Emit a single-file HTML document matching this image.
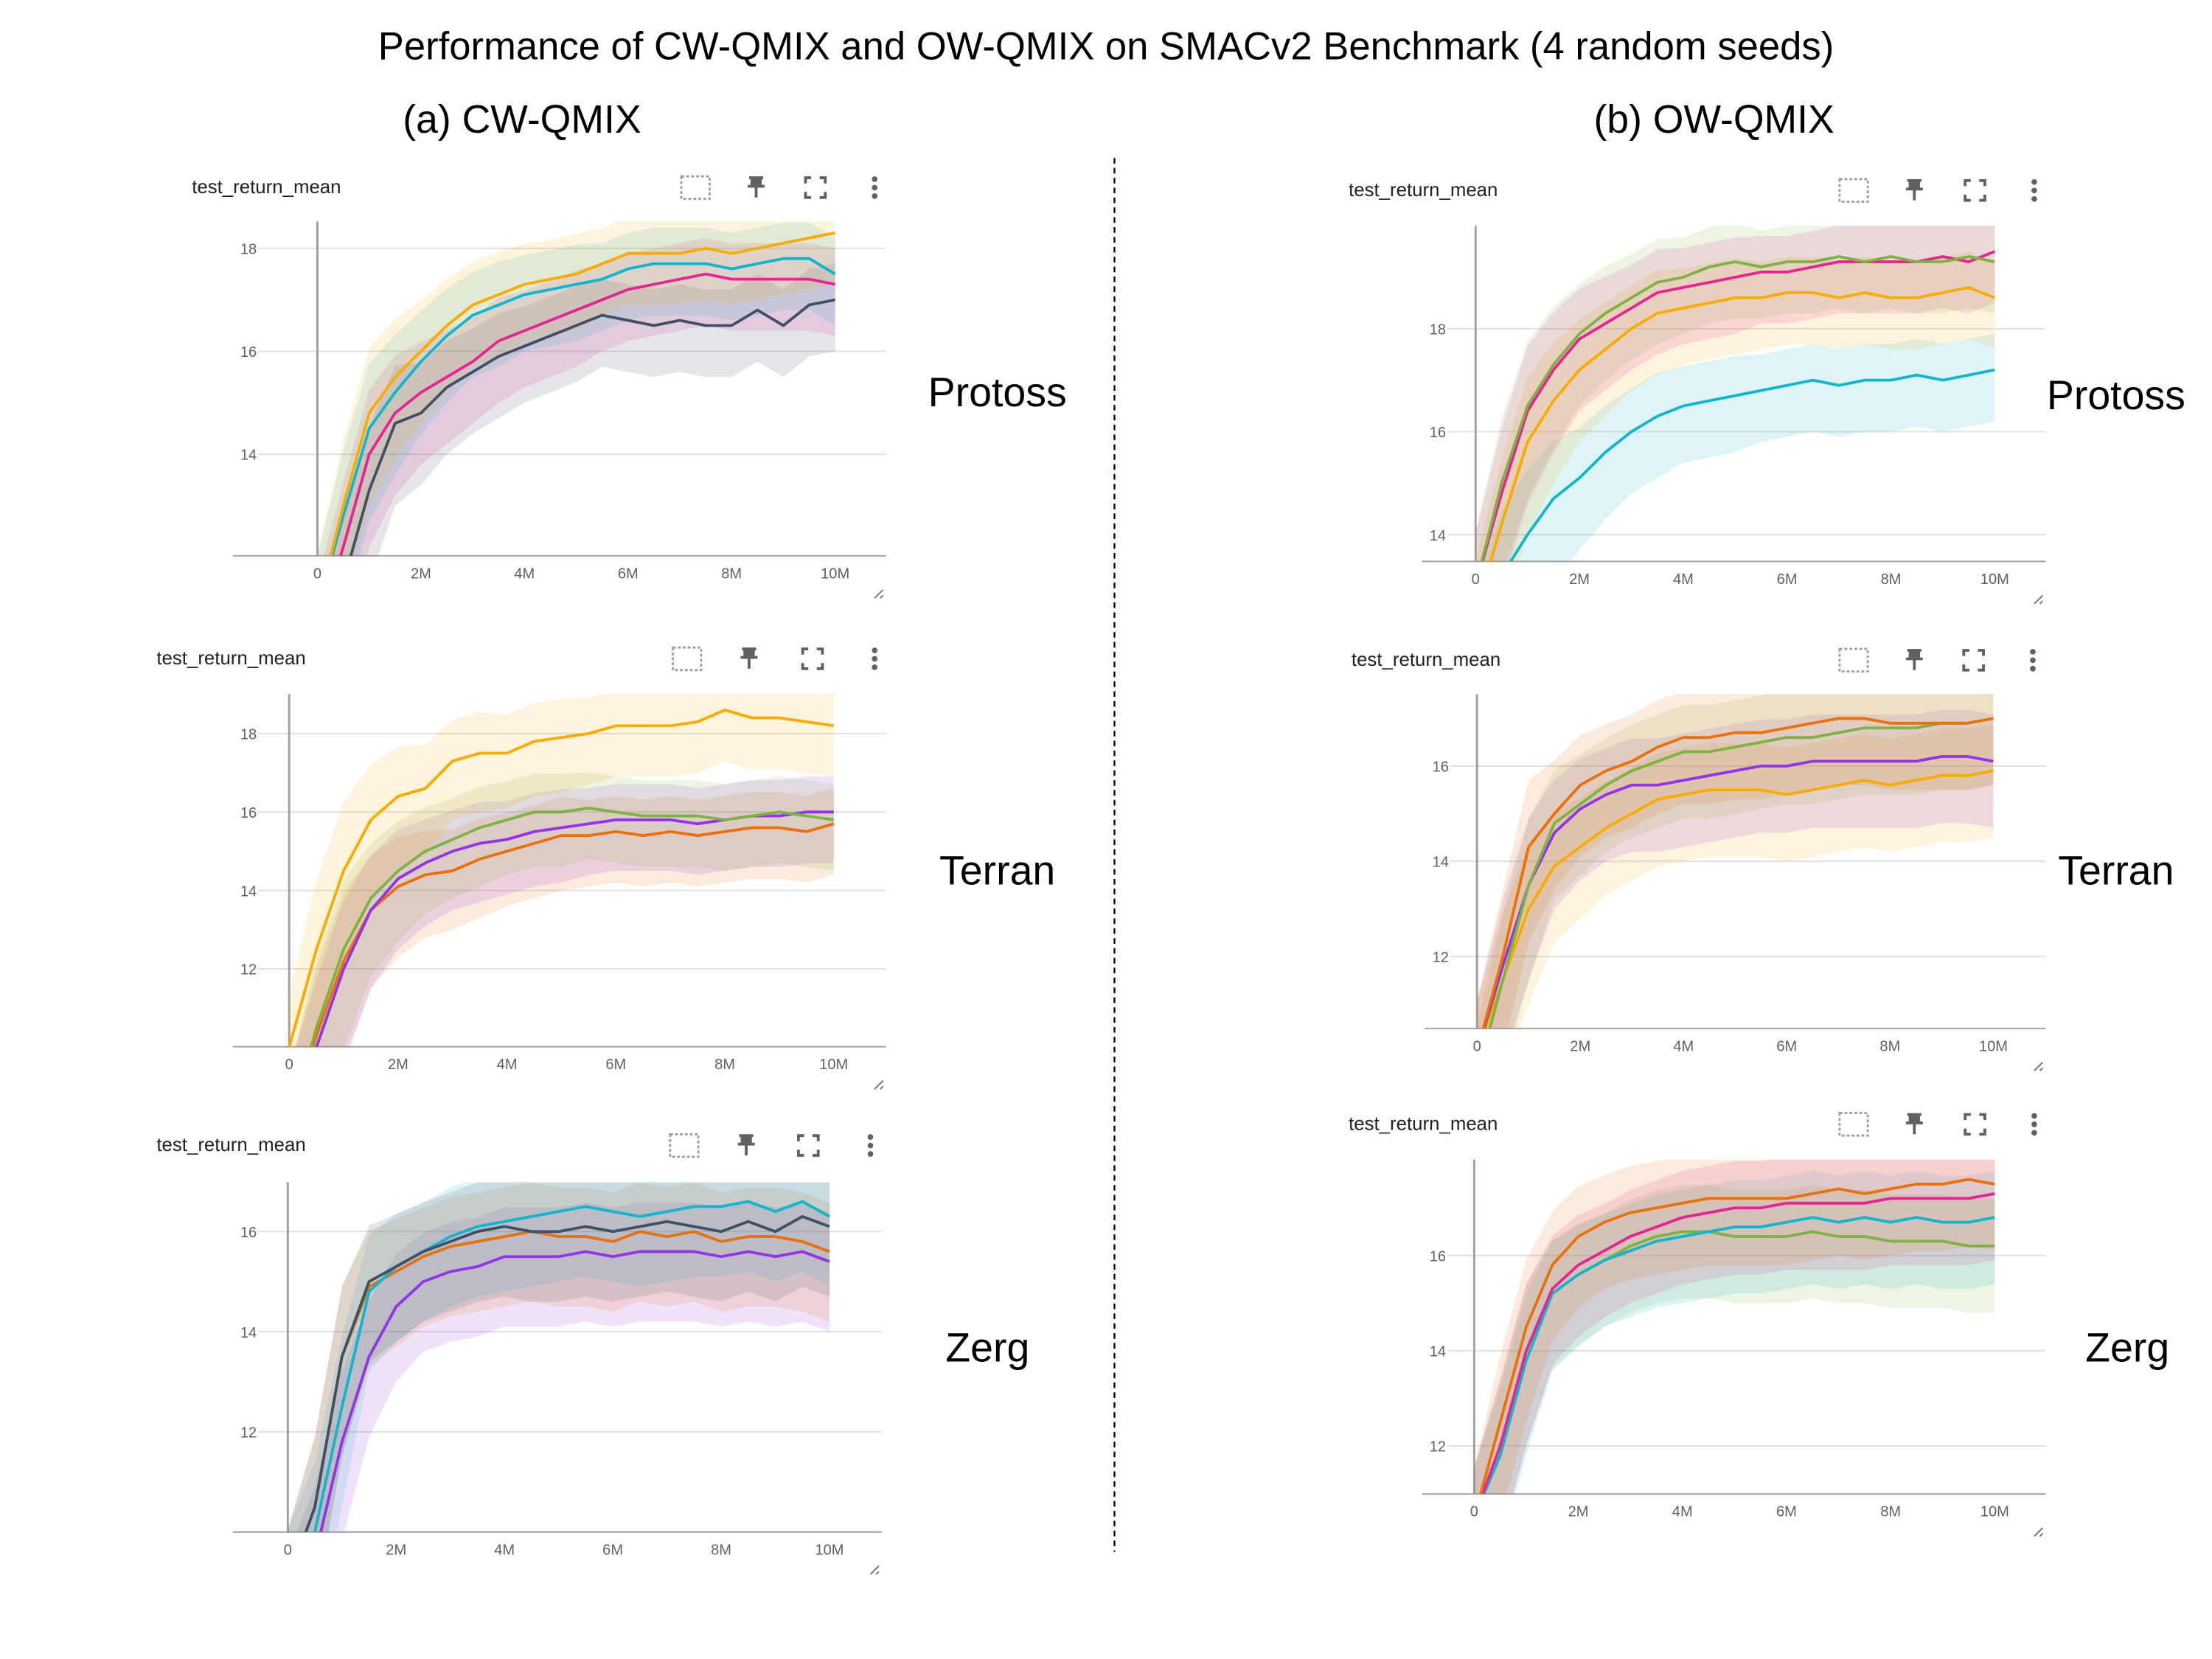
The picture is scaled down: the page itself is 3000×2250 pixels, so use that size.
<!DOCTYPE html>
<html><head><meta charset="utf-8"><style>
html,body{margin:0;padding:0;background:#fff;}
svg{display:block;font-family:"Liberation Sans",sans-serif;}
</style></head><body>
<svg id="chart" width="3000" height="2250" viewBox="0 0 1568 1176" preserveAspectRatio="none" xmlns="http://www.w3.org/2000/svg">
<rect width="1568" height="1176" fill="#fff"/>
<text x="784" y="42" font-size="27.5" text-anchor="middle" fill="#000">Performance of CW-QMIX and OW-QMIX on SMACv2 Benchmark (4 random seeds)</text>
<text x="370" y="94" font-size="28" text-anchor="middle" fill="#000">(a) CW-QMIX</text>
<text x="1215" y="94" font-size="28" text-anchor="middle" fill="#000">(b) OW-QMIX</text>
<line x1="790" y1="112" x2="790" y2="1100" stroke="#000" stroke-width="1.2" stroke-dasharray="4,3"/>
<text x="707" y="288" font-size="29" text-anchor="middle">Protoss</text>
<text x="707" y="627" font-size="29" text-anchor="middle">Terran</text>
<text x="700" y="965" font-size="29" text-anchor="middle">Zerg</text>
<text x="1500" y="290" font-size="29" text-anchor="middle">Protoss</text>
<text x="1500" y="627" font-size="29" text-anchor="middle">Terran</text>
<text x="1508" y="965" font-size="29" text-anchor="middle">Zerg</text>
<g id="panels"></g>
</svg>
<script>
const steps = [0,0.5,1,1.5,2,2.5,3,3.5,4,4.5,5,5.5,6,6.5,7,7.5,8,8.5,9,9.5,10];
const xTicks = [0,2,4,6,8,10];
const xTickLabels = ["0","2M","4M","6M","8M","10M"];
const C = {orange:"#f9ab00",cyan:"#12b5cb",pink:"#e52592",dark:"#425066",green:"#7cb342",purple:"#9334e6",dorange:"#e8710a"};

const a1Ticks = [14,16,18];
const a1Orange = [11,13,14.8,15.5,16,16.5,16.9,17.1,17.3,17.4,17.5,17.7,17.9,17.9,17.9,18.0,17.9,18.0,18.1,18.2,18.3];
const a1Cyan = [11,12.8,14.5,15.2,15.8,16.3,16.7,16.9,17.1,17.2,17.3,17.4,17.6,17.7,17.7,17.7,17.6,17.7,17.8,17.8,17.5];
const a1Pink = [10.5,12.2,14,14.8,15.2,15.5,15.8,16.2,16.4,16.6,16.8,17.0,17.2,17.3,17.4,17.5,17.4,17.4,17.4,17.4,17.3];
const a1Dark = [10,11.5,13.3,14.6,14.8,15.3,15.6,15.9,16.1,16.3,16.5,16.7,16.6,16.5,16.6,16.5,16.5,16.8,16.5,16.9,17.0];
const a1Spread = [1.5,1.8,1.8,1.6,1.4,1.3,1.2,1.2,1.1,1.1,1.1,1.0,1.0,1.0,1.0,1.0,1.0,1.0,1.0,1.0,1.0];
const a2Ticks = [12,14,16,18];
const a2Orange = [10,12.5,14.5,15.8,16.4,16.6,17.3,17.5,17.5,17.8,17.9,18.0,18.2,18.2,18.2,18.3,18.6,18.4,18.4,18.3,18.2];
const a2Green = [8,10.5,12.5,13.8,14.5,15,15.3,15.6,15.8,16.0,16.0,16.1,16.0,15.9,15.9,15.9,15.8,15.9,16.0,15.9,15.8];
const a2Purple = [8,10,12,13.5,14.3,14.7,15.0,15.2,15.3,15.5,15.6,15.7,15.8,15.8,15.8,15.7,15.8,15.9,15.9,16.0,16.0];
const a2DOrange = [8,10.3,12.2,13.5,14.1,14.4,14.5,14.8,15.0,15.2,15.4,15.4,15.5,15.4,15.5,15.4,15.5,15.6,15.6,15.5,15.7];
const a2Spread = [2,2.5,2.5,2,1.8,1.6,1.5,1.5,1.4,1.4,1.4,1.3,1.3,1.3,1.3,1.3,1.3,1.3,1.3,1.3,1.3];
const a3Ticks = [12,14,16];
const a3Dark = [9,10.5,13.5,15,15.3,15.6,15.8,16.0,16.1,16.0,16.0,16.1,16.0,16.1,16.2,16.1,16.0,16.2,16.0,16.3,16.1];
const a3Cyan = [9,10,12.5,14.8,15.3,15.6,15.9,16.1,16.2,16.3,16.4,16.5,16.4,16.3,16.4,16.5,16.5,16.6,16.4,16.6,16.3];
const a3DOrange = [9,10.5,13.5,14.9,15.2,15.5,15.7,15.8,15.9,16.0,15.9,15.9,15.8,16.0,15.9,16.0,15.8,15.9,15.9,15.8,15.6];
const a3Purple = [8.5,9.5,11.8,13.5,14.5,15.0,15.2,15.3,15.5,15.5,15.5,15.6,15.5,15.6,15.6,15.6,15.5,15.6,15.5,15.6,15.4];
const a3Spread = [1.5,2,2,1.6,1.5,1.4,1.4,1.4,1.4,1.4,1.4,1.4,1.4,1.4,1.4,1.4,1.4,1.4,1.4,1.4,1.4];
const b1Ticks = [14,16,18];
const b1Green = [13,15,16.5,17.3,17.9,18.3,18.6,18.9,19.0,19.2,19.3,19.2,19.3,19.3,19.4,19.3,19.4,19.3,19.3,19.4,19.3];
const b1Pink = [13,14.8,16.4,17.2,17.8,18.1,18.4,18.7,18.8,18.9,19.0,19.1,19.1,19.2,19.3,19.3,19.3,19.3,19.4,19.3,19.5];
const b1Orange = [12.5,14.2,15.8,16.6,17.2,17.6,18.0,18.3,18.4,18.5,18.6,18.6,18.7,18.7,18.6,18.7,18.6,18.6,18.7,18.8,18.6];
const b1Cyan = [12,13.2,14.0,14.7,15.1,15.6,16.0,16.3,16.5,16.6,16.7,16.8,16.9,17.0,16.9,17.0,17.0,17.1,17.0,17.1,17.2];
const b1Spread = [1.5,1.8,1.8,1.6,1.4,1.3,1.2,1.2,1.1,1.1,1.1,1.0,1.0,1.0,1.0,1.0,1.0,1.0,1.0,1.0,1.0];
const b2Ticks = [12,14,16];
const b2DOrange = [10,12,14.3,15.0,15.6,15.9,16.1,16.4,16.6,16.6,16.7,16.7,16.8,16.9,17.0,17.0,16.9,16.9,16.9,16.9,17.0];
const b2Green = [9.5,11.5,13.5,14.8,15.2,15.6,15.9,16.1,16.3,16.3,16.4,16.5,16.6,16.6,16.7,16.8,16.8,16.8,16.9,16.9,17.0];
const b2Purple = [10,11.8,13.5,14.6,15.1,15.4,15.6,15.6,15.7,15.8,15.9,16.0,16.0,16.1,16.1,16.1,16.1,16.1,16.2,16.2,16.1];
const b2Orange = [10,11.5,13.0,13.9,14.3,14.7,15.0,15.3,15.4,15.5,15.5,15.5,15.4,15.5,15.6,15.7,15.6,15.7,15.8,15.8,15.9];
const b2Spread = [1.5,2,2,1.6,1.5,1.4,1.4,1.4,1.4,1.4,1.4,1.4,1.4,1.4,1.4,1.4,1.4,1.4,1.4,1.4,1.4];
const b3Ticks = [12,14,16];
const b3DOrange = [10.5,12.5,14.5,15.8,16.4,16.7,16.9,17.0,17.1,17.2,17.2,17.2,17.2,17.3,17.4,17.3,17.4,17.5,17.5,17.6,17.5];
const b3Pink = [10.5,12,14,15.3,15.8,16.1,16.4,16.6,16.8,16.9,17.0,17.0,17.1,17.1,17.1,17.1,17.2,17.2,17.2,17.2,17.3];
const b3Cyan = [10.5,11.8,13.8,15.2,15.6,15.9,16.1,16.3,16.4,16.5,16.6,16.6,16.7,16.8,16.7,16.8,16.7,16.8,16.7,16.7,16.8];
const b3Green = [10.5,12,14,15.2,15.6,15.9,16.2,16.4,16.5,16.5,16.4,16.4,16.4,16.5,16.4,16.4,16.3,16.3,16.3,16.2,16.2];
const b3Spread = [1.5,2,2,1.6,1.5,1.4,1.4,1.4,1.4,1.4,1.4,1.4,1.4,1.4,1.4,1.4,1.4,1.4,1.4,1.4,1.4];

const panels = [
 {id:"cw-protoss",tx:136,ty:137,icons:[493,536,578,620],iy:133,L:165,R:628,T:157,B:394,x0:225,x10:592,yRef:18,yRefPx:176,yPer:36.5,ticks:a1Ticks,spread:a1Spread,
  series:[["dark",a1Dark,C.dark],["pink",a1Pink,C.pink],["cyan",a1Cyan,C.cyan],["orange",a1Orange,C.orange]]},
 {id:"cw-terran",tx:111,ty:471,icons:[487,531,576,620],iy:467,L:165,R:628,T:492,B:742,x0:205,x10:591,yRef:18,yRefPx:520,yPer:27.8,ticks:a2Ticks,spread:a2Spread,
  series:[["dark-orange",a2DOrange,C.dorange],["purple",a2Purple,C.purple],["green",a2Green,C.green],["orange",a2Orange,C.orange]]},
 {id:"cw-zerg",tx:111,ty:816,icons:[485,529,573,617],iy:812,L:165,R:625,T:838,B:1086,x0:204,x10:588,yRef:16,yRefPx:873,yPer:35.5,ticks:a3Ticks,spread:a3Spread,
  series:[["purple",a3Purple,C.purple],["dark-orange",a3DOrange,C.dorange],["cyan",a3Cyan,C.cyan],["dark",a3Dark,C.dark]]},
 {id:"ow-protoss",tx:956,ty:139,icons:[1314,1357,1400,1442],iy:135,L:1008,R:1450,T:160,B:398,x0:1046,x10:1414,yRef:18,yRefPx:233,yPer:36.5,ticks:b1Ticks,spread:b1Spread,
  series:[["cyan",b1Cyan,C.cyan],["orange",b1Orange,C.orange],["pink",b1Pink,C.pink],["green",b1Green,C.green]]},
 {id:"ow-terran",tx:958,ty:472,icons:[1314,1357,1399,1441],iy:468,L:1010,R:1450,T:492,B:729,x0:1047,x10:1413,yRef:16,yRefPx:543,yPer:33.75,ticks:b2Ticks,spread:b2Spread,
  series:[["orange",b2Orange,C.orange],["purple",b2Purple,C.purple],["green",b2Green,C.green],["dark-orange",b2DOrange,C.dorange]]},
 {id:"ow-zerg",tx:956,ty:801,icons:[1314,1357,1400,1442],iy:797,L:1008,R:1450,T:822,B:1059,x0:1045,x10:1414,yRef:16,yRefPx:890,yPer:33.75,ticks:b3Ticks,spread:b3Spread,
  series:[["green",b3Green,C.green],["cyan",b3Cyan,C.cyan],["pink",b3Pink,C.pink],["dark-orange",b3DOrange,C.dorange]]}
];

const NS="http://www.w3.org/2000/svg";
const root=document.getElementById("panels");
function mk(tag,attrs,parent){const e=document.createElementNS(NS,tag);for(const k in attrs)e.setAttribute(k,attrs[k]);parent.appendChild(e);return e;}

panels.forEach((p,pi)=>{
 const g=mk("g",{},root);
 
 
 const xs=v=>p.x0+(p.x10-p.x0)*v/10;
 const ys=v=>p.yRefPx+(p.yRef-v)*p.yPer;
 const t=mk("text",{x:p.tx,y:p.ty,"font-size":"13.5",fill:"#212121"},g);
 t.textContent="test_return_mean";
 
 
 const [i1,i2,i3,i4]=p.icons, iy=p.iy;
 const ic1=mk("rect",{x:i1-10,y:iy-8,width:20,height:16,fill:"none",stroke:"#9e9e9e","stroke-width":1.5,"stroke-dasharray":"2,1.5"},g);
 
 
 const ic2=mk("path",{d:`M${i2-5} ${iy-7}h10M${i2-3} ${iy-7}v6h6v-6M${i2-6} ${iy-1}h12M${i2} ${iy-1}v8`,stroke:"#616161","stroke-width":2,fill:"#616161"},g);
 
 
 const ic3=mk("path",{d:`M${i3-7} ${iy-3}v-4h4M${i3+3} ${iy-7}h4v4M${i3+7} ${iy+3}v4h-4M${i3-3} ${iy+7}h-4v-4`,stroke:"#616161","stroke-width":2,fill:"none"},g);
 
 
 const ic4=mk("g",{fill:"#616161"},g);
 
 
 [-6,0,6].forEach(d=>mk("circle",{cx:i4,cy:iy+d,r:2},ic4));
 p.ticks.forEach(v=>{
  const y=ys(v);
  const gl=mk("line",{x1:p.L+18,x2:p.R,y1:y,y2:y,stroke:"#e0e0e0","stroke-width":1},g);
  
  
  const tl=mk("text",{x:p.L+17,y:y+4,"font-size":"10.5",fill:"#616161","text-anchor":"end"},g);
  tl.textContent=String(v);
  
  
 });
 xTicks.forEach((v,i)=>{
  const x=xs(v);
  const tl=mk("text",{x:x,y:p.B+16,"font-size":"10.5",fill:"#616161","text-anchor":"middle"},g);
  tl.textContent=xTickLabels[i];
  
  
 });
 const ax=mk("line",{x1:p.L,x2:p.R,y1:p.B,y2:p.B,stroke:"#9e9e9e","stroke-width":1},g);
 
 
 const ay=mk("line",{x1:p.x0,x2:p.x0,y1:p.T,y2:p.B,stroke:"#9e9e9e","stroke-width":1.5},g);
 
 
 const rz=mk("path",{d:`M${p.R-8} ${p.B+30}l6-6M${p.R-4} ${p.B+30}l2-2`,stroke:"#757575","stroke-width":1,fill:"none"},g);
 
 
 const cp=mk("clipPath",{id:"clip"+pi},g);
 mk("rect",{x:p.L+20,y:p.T,width:p.x10-p.L-18,height:p.B-p.T},cp);
 const plot=mk("g",{"clip-path":`url(#clip${pi})`},g);
 p.series.forEach(([nm,vals,col])=>{
  let up=steps.map((s,i)=>`${xs(s)},${ys(vals[i]+p.spread[i]*0.7)}`);
  let lo=steps.map((s,i)=>`${xs(s)},${ys(vals[i]-p.spread[i])}`).reverse();
  const band=mk("polygon",{points:up.concat(lo).join(" "),fill:col,"fill-opacity":0.14},plot);
  
  
 });
 p.series.forEach(([nm,vals,col])=>{
  const pts=steps.map((s,i)=>`${xs(s)},${ys(vals[i])}`).join(" ");
  const ln=mk("polyline",{points:pts,fill:"none",stroke:col,"stroke-width":2,"stroke-linejoin":"round"},plot);
  
  
 });
});
</script>
</body></html>
